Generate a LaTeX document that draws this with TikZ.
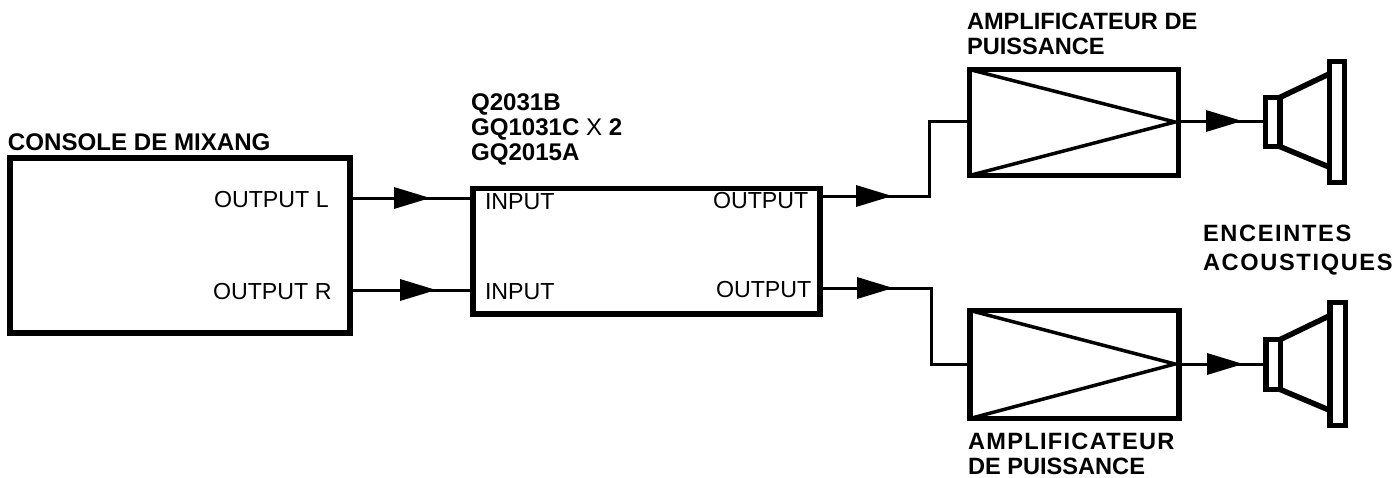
\documentclass[tikz,border=0pt]{standalone}
\usepackage{fontspec}
\setmainfont{Liberation Sans}
\usetikzlibrary{arrows.meta,decorations.markings}
\tikzset{
  x=1pt,y=-1pt,
  thickbox/.style={draw=black,line width=5.5pt,fill=white,rectangle,inner sep=0pt,outer sep=0pt},
  wire/.style={draw=black,line width=3pt},
  tipat/.style={decoration={markings,mark=at position #1 with {\arrow[line width=0pt]{Triangle[length=36pt,width=22pt]}}},postaction=decorate},
  diag/.style={draw=black,line width=3.5pt},
  cone/.style={draw=black,line width=5.5pt},
  lab/.style={anchor=base west,inner sep=0pt,outer sep=0pt,font=\fontsize{23.2}{27}\selectfont},
  blab/.style={lab,font=\fontsize{23.6}{27}\selectfont\bfseries},
  bigblab/.style={lab,font=\fontsize{24.1}{27}\selectfont\bfseries},
  wideblab/.style={lab,font=\fontsize{23.6}{27}\selectfont\bfseries\addfontfeature{LetterSpace=#1}},
}
\newcommand{\boxat}[5]{\node[thickbox,minimum width=#4pt,minimum height=#5pt] (#1) at (#2,#3) {};}
\begin{document}
\begin{tikzpicture}
\useasboundingbox[fill=white] (0,0) rectangle (1395,477);
% boxes
\boxat{console}{180}{245.5}{340}{175}
\boxat{proc}{646.5}{251}{347}{125.5}
\boxat{ampA}{1074}{122.5}{209}{106}
\boxat{ampB}{1074.5}{364.5}{209}{108}
% amplifier triangles
\coordinate (tipA) at (1175,122);
\coordinate (tipB) at (1175,364);
\draw[diag] (ampA.north west) -- (tipA) -- (ampA.south west);
\draw[diag] (ampB.north west) -- (tipB) -- (ampB.south west);
% speakers
\boxat{magA}{1272.5}{122}{14.5}{49}
\boxat{hornA}{1337}{122}{15}{121}
\boxat{magB}{1273}{364.5}{14.5}{50}
\boxat{hornB}{1337.5}{364}{15.5}{123}
\coordinate (coneA1) at (1329,74);
\coordinate (coneA2) at (1329,167);
\coordinate (coneB1) at (1329,316);
\coordinate (coneB2) at (1329,410);
\draw[cone] (magA.north east) -- (coneA1);
\draw[cone] (magA.south east) -- (coneA2);
\draw[cone] (magB.north east) -- (coneB1);
\draw[cone] (magB.south east) -- (coneB2);
% connectors
\coordinate (cL) at (352,198);
\coordinate (cR) at (352,290);
\coordinate (iL) at (471,198);
\coordinate (iR) at (471,290);
\coordinate (oL) at (822,196);
\coordinate (oR) at (822,288);
\coordinate (aA) at (968,121);
\coordinate (aB) at (968,364);
\coordinate (kL) at (929,196);
\coordinate (kL2) at (929,121);
\coordinate (kR) at (931,288);
\coordinate (kR2) at (931,364);
\coordinate (outA) at (1181,121);
\coordinate (outB) at (1181,364);
\coordinate (spA) at (1263,121);
\coordinate (spB) at (1264,364);
\path[wire,tipat=78pt] (cL) -- (iL);
\path[wire,tipat=84pt] (cR) -- (iR);
\path[wire,tipat=70pt] (oL) -- (kL) -- (kL2) -- (aA);
\path[wire,tipat=71pt] (oR) -- (kR) -- (kR2) -- (aB);
\path[wire,tipat=61pt] (outA) -- (spA);
\path[wire,tipat=62pt] (outB) -- (spB);
% labels
\node[bigblab] (t1) at (8,150) {CONSOLE DE MIXANG};
\node[lab] (t2) at (214,207) {OUTPUT L};
\node[lab] (t3) at (213,299) {OUTPUT R};
\node[lab] (t4) at (485,209) {INPUT};
\node[lab] (t5) at (485,299) {INPUT};
\node[lab] (t6) at (713,208) {OUTPUT};
\node[lab] (t7) at (716,297) {OUTPUT};
\node[bigblab] (t8) at (471,110) {Q2031B};
\node[bigblab] (t9) at (471,135) {GQ1031C {\mdseries X} 2};
\node[bigblab] (t10) at (471,160) {GQ2015A};
\node[blab] (t11) at (967,29) {AMPLIFICATEUR DE};
\node[blab] (t12) at (967,54) {PUISSANCE};
\node[wideblab=7] (t13) at (1203,241) {ENCEINTES};
\node[wideblab=7] (t14) at (1203,270) {ACOUSTIQUES};
\node[wideblab=5.5] (t15) at (968,449) {AMPLIFICATEUR};
\node[blab] (t16) at (968,474) {DE PUISSANCE};
\end{tikzpicture}
\end{document}
